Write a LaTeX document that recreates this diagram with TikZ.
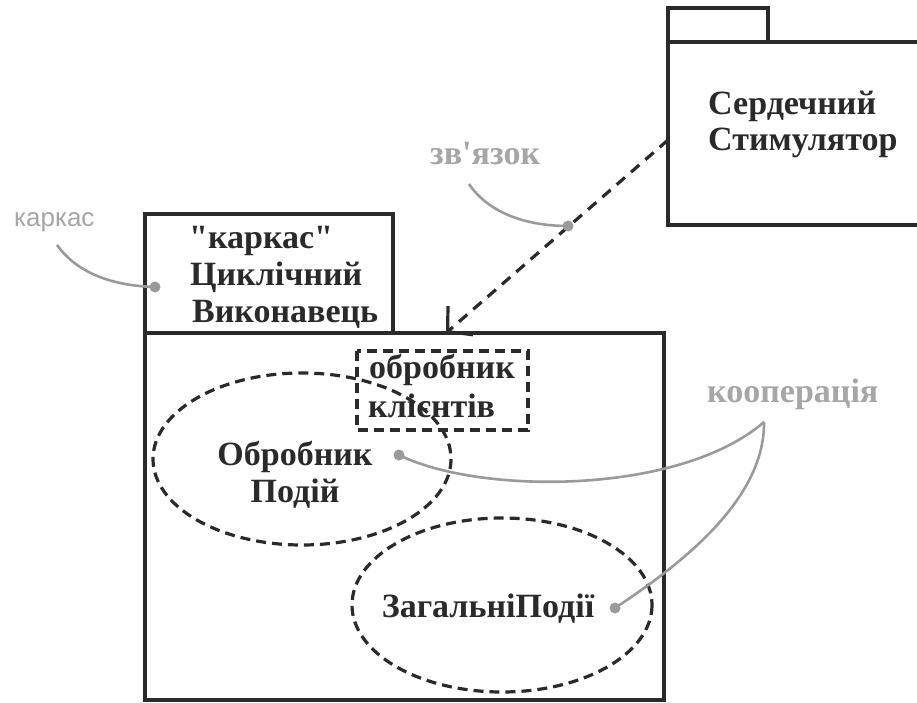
\documentclass[tikz,border=0pt]{standalone}
\usepackage{fontspec}
\setmainfont{Liberation Serif}[Ligatures=TeXOff]
\newfontfamily\notefont{Liberation Sans}
\usetikzlibrary{arrows.meta}
\definecolor{ink}{HTML}{2A2A2A}
\definecolor{notegray}{HTML}{A6A6A6}
\definecolor{leadgray}{HTML}{9A9A9A}
\tikzset{
  frame/.style={draw=ink, line width=3.2pt},
  part/.style={draw=ink, line width=3.2pt, dash pattern=on 10pt off 6pt},
  title/.style={font=\fontsize{34}{38}\selectfont\bfseries, text=ink, inner sep=0pt, align=left},
  ctitle/.style={font=\fontsize{34}{37}\selectfont\bfseries, text=ink, inner sep=0pt, align=center},
  note/.style={font=\fontsize{34}{38}\selectfont\bfseries, text=notegray, inner sep=0pt, anchor=base west},
  leader/.style={draw=leadgray, line width=2.6pt},
  pin/.style={circle, fill=leadgray, inner sep=0pt, minimum size=11pt},
  depend/.style={draw=ink, line width=3.2pt, dash pattern=on 11pt off 8pt,
    -{Straight Barb[length=17pt,width=38pt,line width=3.2pt]}}
}
\begin{document}
\begin{tikzpicture}[x=1pt,y=-1pt]
\useasboundingbox (0,0) rectangle (917,703);

% package: heart pacemaker
\draw[frame] (668,42) rectangle (768,8);
\draw[frame] (668,42) rectangle (925,225);
\node[title, anchor=base west] (pkt1) at (708,115) {Сердечний};
\node[title, anchor=base west] (pkt2) at (708,151) {Стимулятор};

% framework: cyclic executive
\draw[frame] (145,333) rectangle (393,214);
\draw[frame] (145,333) rectangle (664,700);
\node[title, anchor=base west] (fw1) at (189,248) {"каркас"};
\node[title, anchor=base west] (fw2) at (190,285) {Циклічний};
\node[title, anchor=base west] (fw3) at (192,322) {Виконавець};

% collaborations and the client-handler part
\draw[part] (302,459) ellipse [x radius=149, y radius=86];
\draw[part] (502,605) ellipse [x radius=150, y radius=87];
\draw[part] (357,351) rectangle (528,430);
\node[title, anchor=base west] (cl1) at (369,378) {обробник};
\node[title, anchor=base west] (cl2) at (368,417) {клієнтів};
\node[ctitle] (eh) at (295,475) {Обробник\\Подій};
\node[title, anchor=base] (ge) at (488,617) {ЗагальніПодії};

% dependency from pacemaker to framework
\coordinate (depS) at (668,140);
\coordinate (depE) at (446,333);
\draw[depend] (depS) -- (depE);

% annotations
\node[font=\notefont\fontsize{26}{30}\selectfont, text=notegray, inner sep=0pt, anchor=base west] (nfw) at (14,226) {каркас};
\node[note] (ndep) at (430,165) {зв'язок};
\node[note] (ncol) at (707,402) {кооперація};

\node[pin] (pfw) at (155,287) {};
\node[pin] (pdep) at (568,226) {};
\node[pin] (peh) at (399,455) {};
\node[pin] (pge) at (615,608) {};
\coordinate (fork) at (764,422);

\draw[leader] (57,245) .. controls (80,277) and (120,286) .. (pfw.center);
\draw[leader] (469,184) .. controls (490,215) and (530,226) .. (pdep.center);
\draw[leader] (peh.center) .. controls (480,495) and (680,495) .. (fork);
\draw[leader] (pge.center) .. controls (680,565) and (765,500) .. (fork);
\end{tikzpicture}
\end{document}
